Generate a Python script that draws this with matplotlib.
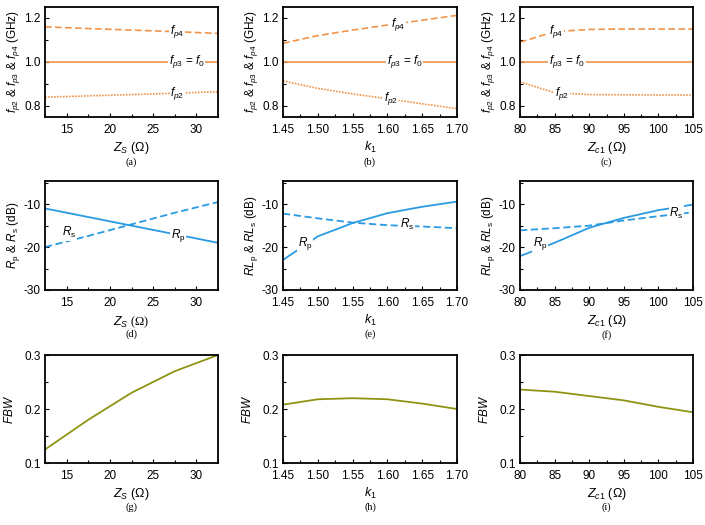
import matplotlib
matplotlib.use("Agg")
import matplotlib.pyplot as plt
from matplotlib.ticker import AutoMinorLocator

plt.rcParams['font.family'] = ['Liberation Sans', 'DejaVu Sans']
plt.rcParams['mathtext.fontset'] = 'custom'
plt.rcParams['mathtext.rm'] = 'Liberation Sans'
plt.rcParams['mathtext.it'] = 'Liberation Sans:italic'
plt.rcParams['axes.unicode_minus'] = False
plt.rcParams['font.size'] = 8.5

ORANGE = '#F0944A'
BLUE = '#2A9BE2'
OLIVE = '#8E9412'

# sweep values
zs = [12.5, 17.5, 22.5, 27.5, 32.5]
k1 = [1.45, 1.50, 1.55, 1.60, 1.65, 1.70]
zc1 = [80, 85, 90, 95, 100, 105]

# resonances vs Zs
zs_fp4 = [1.160, 1.152, 1.145, 1.138, 1.130]
zs_fp3 = [1.0, 1.0, 1.0, 1.0, 1.0]
zs_fp2 = [0.840, 0.846, 0.852, 0.858, 0.865]
# resonances vs k1
k1_fp4 = [1.085, 1.120, 1.145, 1.168, 1.190, 1.212]
k1_fp3 = [1.0, 1.0, 1.0, 1.0, 1.0, 1.0]
k1_fp2 = [0.914, 0.880, 0.855, 0.833, 0.810, 0.788]
# resonances vs Zc1
zc_fp4 = [1.090, 1.138, 1.148, 1.150, 1.150, 1.150]
zc_fp3 = [1.0, 1.0, 1.0, 1.0, 1.0, 1.0]
zc_fp2 = [0.910, 0.860, 0.852, 0.851, 0.850, 0.850]

# return loss
zs_rp = [-11.0, -13.0, -15.0, -17.0, -19.0]
zs_rs = [-20.0, -17.4, -14.7, -12.0, -9.5]
k1_rp = [-23.0, -17.5, -14.4, -12.1, -10.6, -9.4]
k1_rs = [-12.2, -13.3, -14.3, -14.9, -15.2, -15.6]
zc_rp = [-22.1, -19.0, -15.5, -13.2, -11.4, -10.1]
zc_rs = [-16.1, -15.6, -15.0, -13.8, -12.8, -11.9]

# fractional bandwidth
zs_fbw = [0.125, 0.180, 0.230, 0.270, 0.300]
k1_fbw = [0.208, 0.218, 0.220, 0.218, 0.210, 0.200]
zc_fbw = [0.236, 0.232, 0.224, 0.216, 0.204, 0.194]

fig = plt.figure(figsize=(7.05, 5.25), dpi=100)

lefts = [45, 283, 520]
widths = [173, 174, 173]
tops = [7, 181, 355]
heights = [110, 109, 108]

axes = []
for r in range(3):
    row = []
    for c in range(3):
        ax = fig.add_axes([lefts[c] / 705, 1 - (tops[r] + heights[r]) / 525,
                           widths[c] / 705, heights[r] / 525])
        for s in ax.spines.values():
            s.set_linewidth(1.3)
        ax.tick_params(which='both', direction='in', labelsize=8.5)
        ax.tick_params(axis='x', pad=5)
        ax.tick_params(axis='y', pad=3)
        ax.tick_params(which='major', length=3, width=0.8)
        ax.tick_params(which='minor', length=2, width=0.8)
        ax.xaxis.set_minor_locator(AutoMinorLocator(2))
        ax.yaxis.set_minor_locator(AutoMinorLocator(2))
        row.append(ax)
    axes.append(row)

box = dict(facecolor='white', edgecolor='none', pad=0.5)


def lab(ax, x, y, s):
    ax.text(x, y, s, ha='center', va='center', fontsize=8.5, bbox=box, zorder=5)


xs_list = [zs, k1, zc1]
xlims = [(12.5, 32.5), (1.45, 1.70), (80, 105)]
xlabels = ['$Z_S$ (Ω)', '$k_1$', '$Z_{c1}$ (Ω)']
xticks = [[15, 20, 25, 30], [1.45, 1.50, 1.55, 1.60, 1.65, 1.70],
          [80, 85, 90, 95, 100, 105]]

# row 1
f_sets = [(zs_fp4, zs_fp3, zs_fp2), (k1_fp4, k1_fp3, k1_fp2),
          (zc_fp4, zc_fp3, zc_fp2)]
f_labpos = [((27.8, 1.140), (28.9, 1.0), (27.8, 0.859)),
            ((1.615, 1.172), (1.625, 1.0), (1.605, 0.832)),
            ((85.2, 1.140), (86.8, 1.0), (86.1, 0.858))]
for c in range(3):
    ax = axes[0][c]
    f4, f3, f2 = f_sets[c]
    ax.plot(xs_list[c], f4, color=ORANGE, lw=1.2, ls=(0, (4, 2)))
    ax.plot(xs_list[c], f3, color=ORANGE, lw=1.2)
    ax.plot(xs_list[c], f2, color=ORANGE, lw=1.2, ls=(0, (1, 0.8)))
    p4, p3, p2 = f_labpos[c]
    lab(ax, *p4, '$f_{p4}$')
    lab(ax, *p3, '$f_{p3}$ = $f_0$')
    lab(ax, *p2, '$f_{p2}$')
    ax.set_ylim(0.75, 1.25)
    ax.set_yticks([0.8, 1.0, 1.2])
    ax.set_ylabel('$f_{p2}$ & $f_{p3}$ & $f_{p4}$ (GHz)', fontsize=8.5, labelpad=2)

# row 2
r_sets = [(zs_rp, zs_rs), (k1_rp, k1_rs), (zc_rp, zc_rs)]
r_labpos = [((27.9, -17.3), (15.3, -16.7)),
            ((1.482, -19.1), (1.628, -14.8)),
            ((82.9, -19.1), (102.6, -12.2))]
r_ylabels = ['$R_\\mathrm{p}$ & $R_\\mathrm{s}$ (dB)',
             '$RL_\\mathrm{p}$ & $RL_\\mathrm{s}$ (dB)',
             '$RL_\\mathrm{p}$ & $RL_\\mathrm{s}$ (dB)']
for c in range(3):
    ax = axes[1][c]
    rp, rs = r_sets[c]
    ax.plot(xs_list[c], rp, color=BLUE, lw=1.3)
    ax.plot(xs_list[c], rs, color=BLUE, lw=1.3, ls=(0, (4, 2)))
    pp, ps = r_labpos[c]
    lab(ax, *pp, '$R_\\mathrm{p}$')
    lab(ax, *ps, '$R_\\mathrm{s}$')
    ax.set_ylim(-30, -4.6)
    ax.set_yticks([-30, -20, -10])
    ax.set_ylabel(r_ylabels[c], fontsize=8.5, labelpad=1)

# row 3
fbw_sets = [zs_fbw, k1_fbw, zc_fbw]
for c in range(3):
    ax = axes[2][c]
    ax.plot(xs_list[c], fbw_sets[c], color=OLIVE, lw=1.3)
    ax.set_ylim(0.1, 0.3)
    ax.set_yticks([0.1, 0.2, 0.3])
    ax.set_ylabel('$FBW$', fontsize=8.5, labelpad=6)

letters = 'abcdefghi'
for r in range(3):
    for c in range(3):
        ax = axes[r][c]
        ax.set_xlim(*xlims[c])
        ax.set_xticks(xticks[c])
        if c == 1:
            ax.set_xticklabels(['%.2f' % v for v in xticks[c]])
        if r == 1 and c == 0:
            ax.set_xlabel('$Z_S$ (Ω)', fontsize=9, labelpad=4,
                          family='Liberation Serif')
        else:
            ax.set_xlabel(xlabels[c], fontsize=9, labelpad=3)
        ax.text(0.5, -0.41, '(%s)' % letters[3 * r + c], transform=ax.transAxes,
                ha='center', va='center', fontsize=7.5, family='Liberation Serif')

fig.savefig('out.png', dpi=100)
